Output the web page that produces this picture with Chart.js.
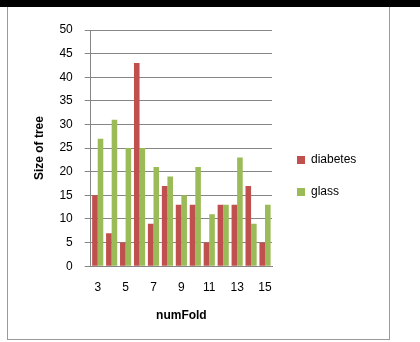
<!DOCTYPE html>
<html>
<head>
<meta charset="utf-8">
<script src="https://cdn.jsdelivr.net/npm/chart.js@4"></script>
<style>
  html, body { margin: 0; padding: 0; background: #fff; }
  #wrap { position: relative; width: 420px; height: 342px; overflow: hidden; }
  #topbar { position: absolute; left: 0; top: 0; width: 420px; height: 7px; background: #000; }
  #frame { position: absolute; left: 7px; top: 7px; width: 381px; height: 332px; border: 1px solid #9a9a9a; border-top: none; }
  #c { position: absolute; left: 0; top: 0; }
</style>
</head>
<body>
<div id="wrap">
  <div id="topbar"></div>
  <div id="frame"></div>
  <canvas id="c" width="420" height="342"></canvas>
</div>
<script>
const folds = ['3', '4', '5', '6', '7', '8', '9', '10', '11', '12', '13', '14', '15'];
const diabetes = [15, 7, 5, 43, 9, 17, 13, 13, 5, 13, 13, 17, 5];
const glass = [27, 31, 25, 25, 21, 19, 15, 21, 11, 13, 23, 9, 13];
const yTicks = [0, 5, 10, 15, 20, 25, 30, 35, 40, 45, 50];

const FONT = '"Liberation Sans", "DejaVu Sans", sans-serif';

// legend drawn beside the plot, like the office chart
const sideLegend = {
  id: 'sideLegend',
  afterDraw(chart) {
    const ctx = chart.ctx;
    ctx.save();
    ctx.font = '12px ' + FONT;
    ctx.textBaseline = 'middle';
    chart.data.datasets.forEach((ds, i) => {
      const y = 160 + i * 32;
      ctx.fillStyle = ds.backgroundColor;
      ctx.fillRect(297, y - 4, 8, 8);
      ctx.fillStyle = '#000';
      ctx.fillText(ds.label, 311, y);
    });
    ctx.restore();
  }
};

new Chart(document.getElementById('c'), {
  type: 'bar',
  data: {
    labels: folds,
    datasets: [
      { label: 'diabetes', data: diabetes, backgroundColor: '#c0504d' },
      { label: 'glass', data: glass, backgroundColor: '#9bbb59' }
    ]
  },
  options: {
    responsive: false,
    animation: false,
    layout: { padding: { left: 28, top: 30, right: 148, bottom: 15 } },
    datasets: { bar: { categoryPercentage: 0.8, barPercentage: 1.0 } },
    plugins: {
      legend: { display: false },
      tooltip: { enabled: false }
    },
    scales: {
      x: {
        grid: { display: false, drawTicks: false },
        border: { color: '#868686' },
        ticks: {
          color: '#000',
          font: { family: FONT, size: 12 },
          maxRotation: 0,
          autoSkip: false,
          padding: 14,
          callback: function (v, i) { return i % 2 === 0 ? folds[i] : ''; }
        },
        title: {
          display: true,
          text: 'numFold',
          color: '#000',
          font: { family: FONT, size: 12, weight: 'bold' },
          padding: { top: 0 }
        }
      },
      y: {
        min: 0,
        max: 50,
        afterBuildTicks: (axis) => { axis.ticks = yTicks.map(v => ({ value: v })); },
        grid: { color: '#868686', lineWidth: 1, tickLength: 6 },
        border: { color: '#868686' },
        ticks: {
          color: '#000',
          font: { family: FONT, size: 12 },
          padding: 12
        },
        title: {
          display: true,
          text: 'Size of tree',
          color: '#000',
          font: { family: FONT, size: 12, weight: 'bold' },
          padding: { bottom: 1 }
        }
      }
    }
  },
  plugins: [sideLegend]
});
</script>
</body>
</html>
